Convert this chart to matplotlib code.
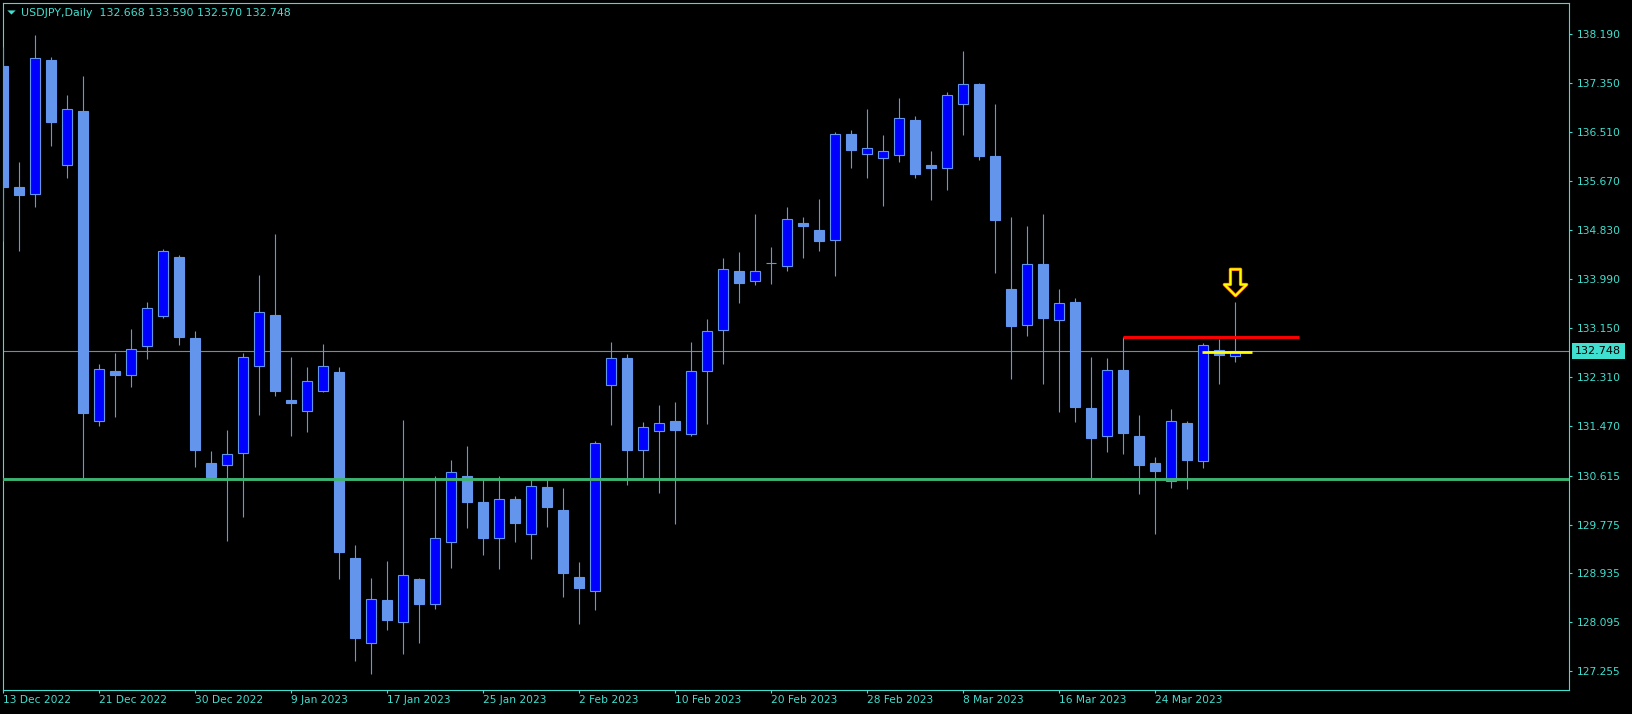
import matplotlib
matplotlib.use("Agg")
import matplotlib.pyplot as plt
import matplotlib.transforms as mtransforms
from matplotlib.patches import Rectangle
from matplotlib.path import Path
from matplotlib.lines import Line2D

# ---------------- data (USDJPY daily) ----------------
opens = [137.644, 135.568, 135.442, 137.747, 135.940, 136.872, 131.557, 132.410, 132.347, 132.844,
         133.359, 134.366, 132.976, 130.826, 130.792, 131.008, 132.501, 133.371, 131.912, 131.729,
         132.072, 132.393, 129.201, 127.737, 128.480, 128.097, 128.840, 128.406, 129.470, 130.608,
         130.157, 129.549, 130.208, 129.618, 130.419, 130.024, 128.874, 128.629, 132.175, 132.633,
         131.049, 131.375, 131.552, 131.323, 132.415, 133.108, 134.126, 133.960, 134.265, 134.217,
         134.950, 134.830, 134.663, 136.477, 136.139, 136.071, 136.122, 136.718, 135.945, 135.889,
         136.987, 137.335, 136.100, 133.817, 133.194, 134.246, 133.280, 133.594, 131.775, 131.289,
         132.422, 131.294, 130.831, 130.517, 131.518, 130.860, 132.770, 132.668]
highs = [137.976, 135.992, 138.176, 137.794, 137.147, 137.473, 132.530, 132.719, 133.131, 133.594,
         134.504, 134.401, 133.096, 131.037, 131.397, 132.719, 134.058, 134.761, 132.650, 132.478,
         132.873, 132.478, 129.424, 128.857, 129.149, 131.569, 128.857, 130.608, 130.883, 131.123,
         130.568, 130.608, 130.265, 130.551, 130.539, 130.402, 129.132, 131.208, 132.908, 132.702,
         131.535, 131.826, 131.878, 132.908, 133.302, 134.349, 134.452, 135.104, 134.538, 135.225,
         135.053, 135.362, 136.512, 136.546, 136.906, 136.460, 137.095, 136.786, 136.186, 137.198,
         137.902, 137.353, 136.992, 135.053, 134.898, 135.104, 133.817, 133.663, 132.650, 132.633,
         132.988, 131.655, 130.934, 131.758, 131.547, 132.891, 132.959, 133.590]
lows = [134.646, 134.474, 135.230, 136.276, 135.727, 130.548, 131.466, 131.626, 132.141, 132.621,
        133.325, 132.856, 130.768, 130.591, 129.497, 129.909, 131.655, 131.986, 131.299, 131.368,
        132.050, 128.845, 127.438, 127.215, 127.970, 127.558, 127.747, 128.331, 129.034, 129.721,
        129.257, 129.017, 129.480, 129.189, 129.738, 128.536, 128.073, 128.313, 131.488, 130.459,
        130.574, 130.321, 129.789, 131.294, 131.505, 132.535, 133.582, 133.891, 133.908, 134.131,
        134.355, 134.474, 134.046, 135.899, 135.727, 135.247, 136.002, 135.727, 135.350, 135.521,
        136.465, 136.033, 134.097, 132.278, 133.016, 132.192, 131.711, 131.540, 130.539, 131.025,
        130.991, 130.304, 129.618, 130.407, 130.390, 130.751, 132.192, 132.570]
closes = [135.573, 135.436, 137.776, 136.688, 136.901, 131.694, 132.439, 132.347, 132.782, 133.486,
          134.464, 132.993, 131.054, 130.596, 130.980, 132.645, 133.417, 132.072, 131.866, 132.234,
          132.491, 129.308, 127.833, 128.492, 128.142, 128.904, 128.416, 129.539, 130.671, 130.167,
          129.549, 130.208, 129.806, 130.431, 130.081, 128.948, 128.685, 131.169, 132.628, 131.059,
          131.444, 131.512, 131.397, 132.405, 133.091, 134.155, 133.925, 134.121, 134.255, 135.013,
          134.904, 134.646, 136.477, 136.208, 136.232, 136.180, 136.747, 135.796, 135.899, 137.141,
          137.330, 136.105, 135.007, 133.188, 134.241, 133.325, 133.572, 131.797, 131.265, 132.422,
          131.351, 130.802, 130.699, 131.547, 130.888, 132.851, 132.679, 132.748]

date_tick_bars = [0, 6, 12, 18, 24, 30, 36, 42, 48, 54, 60, 66, 72]
date_tick_labels = ["13 Dec 2022", "21 Dec 2022", "30 Dec 2022", "9 Jan 2023", "17 Jan 2023",
                    "25 Jan 2023", "2 Feb 2023", "10 Feb 2023", "20 Feb 2023", "28 Feb 2023",
                    "8 Mar 2023", "16 Mar 2023", "24 Mar 2023"]
price_tick_labels = ["138.190", "137.350", "136.510", "135.670", "134.830", "133.990", "133.150",
                     "132.310", "131.470", "130.615", "129.775", "128.935", "128.095", "127.255"]

support_level = 130.548          # green horizontal line
resistance_level = 132.988       # red trend line
resistance_bars = [70, 81]
yellow_level = 132.730
yellow_bars = [74.94, 78.06]
arrow_bar = 77
header = "USDJPY,Daily  132.668 133.590 132.570 132.748"

# ---------------- style ----------------
BG = "black"
FG = "#40E0D0"
BULL = "#0000FF"
BEAR = "#6495ED"
W, H = 1633, 714
DPI = 100

fig = plt.figure(figsize=(W / DPI, H / DPI), dpi=DPI, facecolor=BG)
x0, x1, ytop, ybot = 2.7, 1569.3, 2.5, 690.0
ax = fig.add_axes([x0 / W, (H - ybot) / H, (x1 - x0) / W, (ybot - ytop) / H], facecolor=BG)

n = len(opens)
body_w = 0.64
for i in range(n):
    o, h, l, c = opens[i], highs[i], lows[i], closes[i]
    ax.vlines(i, l, h, color=BEAR, lw=0.8, zorder=3)
    bottom = min(o, c)
    height = abs(c - o)
    fc = BULL if c > o else BEAR
    ax.add_patch(Rectangle((i - body_w / 2, bottom), body_w, height,
                           facecolor=fc, edgecolor=BEAR, lw=0.8, zorder=4))

# lines
ax.axhline(closes[-1], color="#7d8896", lw=0.8, zorder=2)
ax.axhline(support_level, color="#3CB371", lw=2.1, zorder=5)
ax.hlines(resistance_level, resistance_bars[0], resistance_bars[1], color="#FF0000", lw=2.1, zorder=5)
ax.hlines(yellow_level, yellow_bars[0], yellow_bars[1], color="#FFFF00", lw=2.0, zorder=6)

# hollow down arrow above the last bar
arrow_path = Path([(-5, 13), (5, 13), (5, -2), (11, -2), (0, -13), (-11, -2), (-5, -2), (-5, 13)],
                  [Path.MOVETO] + [Path.LINETO] * 6 + [Path.CLOSEPOLY])
off = mtransforms.ScaledTranslation(0, 20 / DPI, fig.dpi_scale_trans)
ax.plot([arrow_bar], [highs[arrow_bar]], marker=arrow_path, markersize=19, markerfacecolor="none",
        markeredgecolor="#FF6A00", markeredgewidth=2.4, transform=ax.transData + off, zorder=7)
ax.plot([arrow_bar], [highs[arrow_bar]], marker=arrow_path, markersize=19, markerfacecolor="none",
        markeredgecolor="#FFFF00", markeredgewidth=1.4, transform=ax.transData + off, zorder=8)

# axes limits
ax.set_xlim(-0.0375, 97.875)
ax.set_ylim(126.935, 138.734)

for s in ax.spines.values():
    s.set_color(FG)
    s.set_linewidth(0.8)

FS = 7.7
ax.yaxis.tick_right()
ax.set_yticks([float(t) for t in price_tick_labels])
ax.set_yticklabels(price_tick_labels)
ax.tick_params(axis="y", colors=FG, length=2.3, width=0.8, pad=3.2, labelsize=FS)

ax.set_xticks(date_tick_bars)
ax.set_xticklabels(date_tick_labels)
ax.tick_params(axis="x", colors=FG, length=2.3, width=0.8, pad=1.5, labelsize=FS)
for lbl in ax.get_xticklabels():
    lbl.set_ha("left")

# current price tag
tr = mtransforms.blended_transform_factory(ax.transAxes, ax.transData)
ax.text(1.0 + 6.0 / (x1 - x0), closes[-1], f"{closes[-1]:.3f}", transform=tr, ha="left", va="center",
        color="black", fontsize=FS + 0.3, zorder=10,
        bbox=dict(boxstyle="square,pad=0.28", facecolor=FG, edgecolor="none"), clip_on=False)

# header
fig.text(20.7 / W, 1 - 12.7 / H, header, color=FG, fontsize=FS + 0.2, ha="left", va="center")
tri = Path([(-1, 0.5), (1, 0.5), (0, -0.5), (-1, 0.5)], [Path.MOVETO, Path.LINETO, Path.LINETO, Path.CLOSEPOLY])
fig.add_artist(Line2D([10.7 / W], [1 - 12.3 / H], marker=tri, markersize=6, color=FG,
                      markeredgewidth=0, transform=fig.transFigure))

fig.savefig("out.png", dpi=DPI, facecolor=BG)
